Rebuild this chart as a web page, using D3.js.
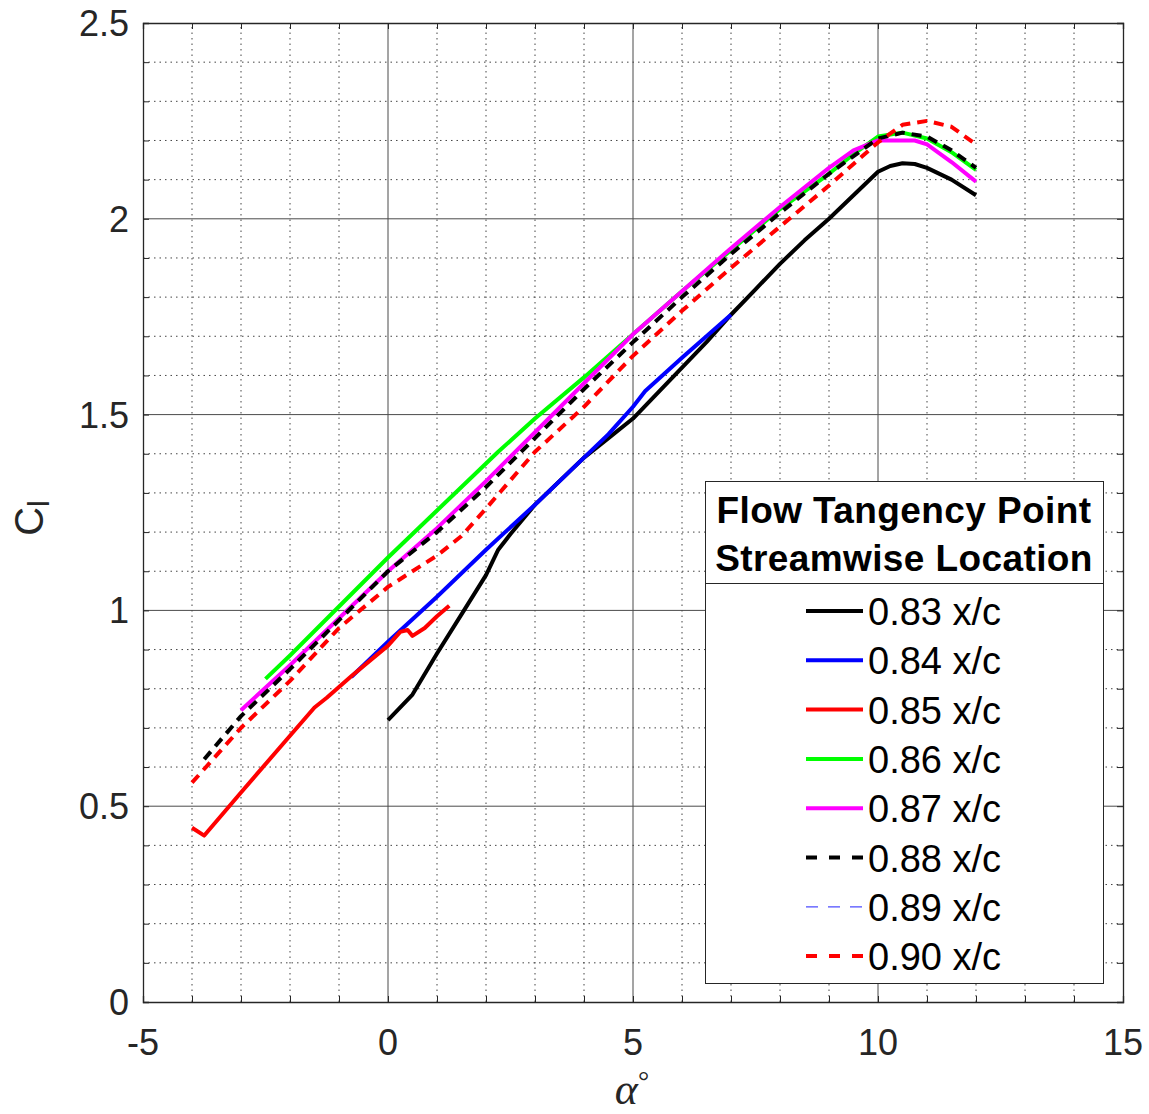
<!DOCTYPE html>
<html>
<head>
<meta charset="utf-8">
<script src="https://cdn.jsdelivr.net/npm/d3@7"></script>
<style>
  body { margin: 0; background: #fff; }
  svg { display: block; font-family: "Liberation Sans", Arial, sans-serif; }
</style>
</head>
<body>
<svg width="1149" height="1114"></svg>
<script>
// angle of attack (deg) and lift coefficient for each tangency point location
const alpha83 = [0, 0.5, 1, 1.5, 2, 2.25, 2.5, 3, 3.5, 4, 4.5, 5, 5.5, 6, 6.5, 7, 7.5, 8, 8.5, 9, 9.5, 10, 10.25, 10.5, 10.75, 11, 11.5, 12];
const cl83 = [0.72, 0.785, 0.89, 0.99, 1.09, 1.155, 1.195, 1.27, 1.33, 1.39, 1.44, 1.49, 1.555, 1.62, 1.685, 1.755, 1.82, 1.885, 1.945, 2.0, 2.06, 2.12, 2.135, 2.142, 2.14, 2.13, 2.1, 2.06];

const alpha84 = [-0.75, -0.5, 0, 1, 2, 3, 4, 4.5, 5, 5.25, 6, 7];
const cl84 = [0.83, 0.86, 0.92, 1.035, 1.155, 1.27, 1.39, 1.45, 1.52, 1.56, 1.645, 1.755];

const alpha85 = [-4, -3.75, -3, -2, -1.5, -1.25, -0.75, 0, 0.25, 0.4, 0.5, 0.75, 1, 1.25];
const cl85 = [0.445, 0.425, 0.535, 0.68, 0.752, 0.777, 0.832, 0.91, 0.945, 0.95, 0.935, 0.955, 0.985, 1.012];

const alpha86 = [-2.5, -2, -1, 0, 1, 2, 2.25, 3, 4, 5, 6, 7, 8, 9, 9.5, 10, 10.5, 11, 11.5, 12];
const cl86 = [0.825, 0.885, 1.01, 1.135, 1.255, 1.375, 1.405, 1.49, 1.595, 1.705, 1.815, 1.92, 2.025, 2.115, 2.165, 2.21, 2.22, 2.205, 2.17, 2.125];

const alpha87 = [-3, -2, -1, -0.25, 0, 1, 2, 3, 4, 5, 6, 7, 8, 9, 9.5, 10, 10.75, 11, 11.5, 12];
const cl87 = [0.745, 0.86, 0.98, 1.07, 1.1, 1.21, 1.33, 1.455, 1.58, 1.705, 1.815, 1.925, 2.03, 2.13, 2.175, 2.2, 2.2, 2.19, 2.145, 2.095];

const alpha88 = [-3.75, -3, -2, -1, 0, 1, 2, 3, 4, 5, 6, 7, 8, 9, 10, 10.5, 11, 11.5, 12];
const cl88 = [0.62, 0.73, 0.85, 0.975, 1.1, 1.2, 1.315, 1.44, 1.565, 1.685, 1.8, 1.91, 2.015, 2.115, 2.205, 2.22, 2.21, 2.175, 2.13];

const alpha89 = [];
const cl89 = [];

const alpha90 = [-4, -3, -2, -1, 0, 1, 1.5, 2, 3, 4, 5, 6, 7, 8, 9, 9.5, 10, 10.5, 11, 11.5, 12];
const cl90 = [0.56, 0.70, 0.82, 0.955, 1.06, 1.14, 1.19, 1.26, 1.405, 1.52, 1.65, 1.765, 1.875, 1.98, 2.085, 2.14, 2.195, 2.24, 2.25, 2.235, 2.19];

const seriesNames = ["0.83 x/c", "0.84 x/c", "0.85 x/c", "0.86 x/c", "0.87 x/c", "0.88 x/c", "0.89 x/c", "0.90 x/c"];
const xTicks = [-5, 0, 5, 10, 15];
const yTicks = [0, 0.5, 1, 1.5, 2, 2.5];
const legendTitle = ["Flow Tangency Point", "Streamwise Location"];

const styles = [
  {color: "#000000", width: 4, dash: null},
  {color: "#0000ff", width: 4, dash: null},
  {color: "#ff0000", width: 4, dash: null},
  {color: "#00ff00", width: 4, dash: null},
  {color: "#ff00ff", width: 4, dash: null},
  {color: "#000000", width: 4, dash: "10,7"},
  {color: "#4d4dff", width: 1.2, dash: "6,6"},
  {color: "#ff0000", width: 4, dash: "10,7"}
];

const series = [
  [alpha83, cl83], [alpha84, cl84], [alpha85, cl85], [alpha86, cl86],
  [alpha87, cl87], [alpha88, cl88], [alpha89, cl89], [alpha90, cl90]
].map(([a, c], i) => ({name: seriesNames[i], style: styles[i], values: a.map((v, j) => ({x: v, y: c[j]}))}));

const svg = d3.select("svg");
const axisColor = "#262626";

const x = d3.scaleLinear().domain([-5, 15]).range([143, 1123]);
const y = d3.scaleLinear().domain([0, 2.5]).range([1002, 23]);

const grid = svg.append("g");

// minor dotted grid
grid.selectAll(".vminor")
    .data(d3.range(-4, 15, 1).filter(v => v % 5 !== 0))
    .enter().append("line")
    .attr("x1", d => x(d)).attr("x2", d => x(d))
    .attr("y1", y(0)).attr("y2", y(2.5))
    .attr("stroke", "#444").attr("stroke-width", 1)
    .attr("stroke-dasharray", "1.5,4");

grid.selectAll(".hminor")
    .data(d3.range(1, 25).filter(v => v % 5 !== 0).map(v => v / 10))
    .enter().append("line")
    .attr("x1", x(-5)).attr("x2", x(15))
    .attr("y1", d => y(d)).attr("y2", d => y(d))
    .attr("stroke", "#444").attr("stroke-width", 1)
    .attr("stroke-dasharray", "1.5,4");

// major grid
grid.selectAll(".vmajor")
    .data(xTicks.slice(1, -1))
    .enter().append("line")
    .attr("x1", d => x(d)).attr("x2", d => x(d))
    .attr("y1", y(0)).attr("y2", y(2.5))
    .attr("stroke", "#4a4a4a").attr("stroke-width", 1);

grid.selectAll(".hmajor")
    .data(yTicks.slice(1, -1))
    .enter().append("line")
    .attr("x1", x(-5)).attr("x2", x(15))
    .attr("y1", d => y(d)).attr("y2", d => y(d))
    .attr("stroke", "#4a4a4a").attr("stroke-width", 1);

// axes with inward ticks
const xMinor = d3.range(-5, 16, 1);
const yMinor = d3.range(0, 26, 1).map(v => v / 10);

const xb = svg.append("g").attr("transform", `translate(0,${y(0)})`)
    .call(d3.axisBottom(x).tickValues(xMinor).tickSize(-6).tickFormat(""));
const xt = svg.append("g").attr("transform", `translate(0,${y(2.5)})`)
    .call(d3.axisTop(x).tickValues(xMinor).tickSize(-6).tickFormat(""));
const yl = svg.append("g").attr("transform", `translate(${x(-5)},0)`)
    .call(d3.axisLeft(y).tickValues(yMinor).tickSize(-6).tickFormat(""));
const yr = svg.append("g").attr("transform", `translate(${x(15)},0)`)
    .call(d3.axisRight(y).tickValues(yMinor).tickSize(-6).tickFormat(""));

[xb, xt, yl, yr].forEach(g => {
  g.selectAll("path").attr("stroke", axisColor).attr("stroke-width", 1.3);
  g.selectAll("line").attr("stroke", axisColor);
});

// tick labels
svg.append("g").selectAll("text")
    .data(xTicks).enter().append("text")
    .attr("x", d => x(d)).attr("y", 1055)
    .attr("text-anchor", "middle")
    .style("font-size", "36px").style("fill", axisColor)
    .text(d => d);

svg.append("g").selectAll("text")
    .data(yTicks).enter().append("text")
    .attr("x", 129).attr("y", d => y(d) + 13)
    .attr("text-anchor", "end")
    .style("font-size", "36px").style("fill", axisColor)
    .text(d => d);

// axis titles
const xlab = svg.append("text")
    .attr("x", 632).attr("y", 1104)
    .attr("text-anchor", "middle")
    .style("font-family", "'Liberation Serif', 'DejaVu Serif', serif")
    .style("fill", axisColor);
xlab.append("tspan").style("font-size", "44px").style("font-style", "italic").text("\u03b1");
xlab.append("tspan").attr("dy", -14).style("font-size", "28px").text("\u00b0");

const ylab = svg.append("text")
    .attr("transform", "translate(43,518) rotate(-90)")
    .attr("text-anchor", "middle")
    .style("fill", axisColor);
ylab.append("tspan").style("font-size", "40px").text("C");
ylab.append("tspan").attr("dy", 6).style("font-size", "30px").text("l");

// curves
const line = d3.line().x(d => x(d.x)).y(d => y(d.y));

svg.append("g").selectAll("path")
    .data(series.filter(s => s.values.length))
    .enter().append("path")
    .attr("d", d => line(d.values))
    .attr("fill", "none")
    .attr("stroke", d => d.style.color)
    .attr("stroke-width", d => d.style.width)
    .attr("stroke-dasharray", d => d.style.dash)
    .attr("stroke-linejoin", "round");

// legend
const legend = svg.append("g");
legend.append("rect")
    .attr("x", 705.5).attr("y", 481.5)
    .attr("width", 398).attr("height", 502)
    .attr("fill", "#fff").attr("stroke", axisColor).attr("stroke-width", 1);
legend.append("line")
    .attr("x1", 705.5).attr("x2", 1103.5).attr("y1", 583.5).attr("y2", 583.5)
    .attr("stroke", axisColor).attr("stroke-width", 1);

legend.selectAll(".title")
    .data(legendTitle).enter().append("text")
    .attr("x", 904).attr("y", (d, i) => 523 + i * 48)
    .attr("text-anchor", "middle")
    .style("font-size", "37px").style("font-weight", "bold").style("fill", "#000")
    .style("letter-spacing", "0.4px")
    .text(d => d);

const items = legend.selectAll(".item")
    .data(series).enter().append("g")
    .attr("transform", (d, i) => `translate(0,${625 + i * 49.3})`);

items.append("line")
    .attr("x1", 806).attr("x2", 863).attr("y1", -14).attr("y2", -14)
    .attr("stroke", d => d.style.color)
    .attr("stroke-width", d => d.style.width)
    .attr("stroke-dasharray", d => d.style.dash ? (d.style.width > 2 ? "11,12" : "12,10") : null);

items.append("text")
    .attr("x", 868).attr("y", 0)
    .style("font-size", "38px").style("fill", "#000")
    .text(d => d.name);
</script>
</body>
</html>
